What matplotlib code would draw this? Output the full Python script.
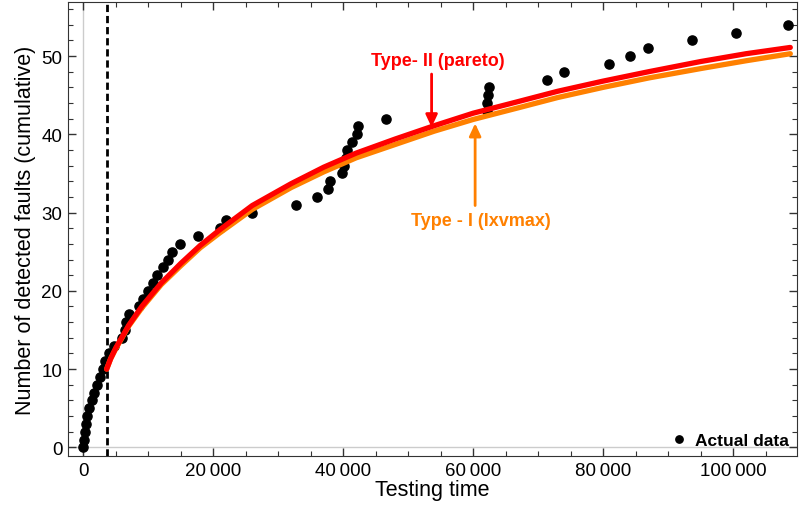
import matplotlib.pyplot as plt
from matplotlib.ticker import MultipleLocator, FuncFormatter

plt.rcParams['font.family'] = ['Liberation Sans', 'DejaVu Sans']

# actual data: testing time (s) vs cumulative faults
time_obs = [0, 100, 200, 400, 600, 900, 1300, 1650, 2050, 2600, 3000, 3400, 3900,
            4800, 6000, 6400, 6500, 7100, 8500, 9200, 10000, 10800, 11300, 12300,
            13000, 13700, 14900, 17600, 21000, 22000, 25900, 32800, 36000, 37600,
            37900, 39800, 40100, 40400, 40600, 41300, 42100, 42300, 46600, 62200,
            62200, 62300, 62500, 71400, 74000, 80900, 84200, 86900, 93600, 100500,
            108500]
faults_obs = list(range(0, 55))

# fitted curves
t_fit = [3600, 4200, 5000, 7000, 9000, 12000, 15000, 18000, 21000, 26000, 32000,
         37000, 42000, 48000, 54000, 60000, 67000, 73000, 80000, 87000, 95000,
         102000, 108800]
pareto_fit = [10.0, 11.3, 12.7, 15.6, 18.0, 21.0, 23.5, 25.8, 27.8, 30.9, 33.7,
              35.8, 37.6, 39.4, 41.1, 42.7, 44.2, 45.5, 46.8, 48.0, 49.3, 50.3, 51.1]
lxvmax_fit = [10.0, 11.3, 12.6, 15.5, 17.8, 20.8, 23.2, 25.5, 27.4, 30.4, 33.2,
              35.2, 37.0, 38.7, 40.4, 41.9, 43.4, 44.7, 46.0, 47.2, 48.4, 49.4, 50.3]

change_point = 3600

fig = plt.figure(figsize=(8, 5.1), dpi=100)
ax = fig.add_axes([0.085, 0.104, 0.911, 0.89])

ax.axhline(0, color='#cccccc', lw=1, zorder=0)
ax.axvline(0, color='#cccccc', lw=1, zorder=0)
ax.axvline(change_point, color='black', lw=2, ls=(0, (2.6, 1.4)), zorder=1)

ax.plot(time_obs, faults_obs, 'o', color='black', ms=6.6, zorder=2,
        label='Actual data')
ax.plot(t_fit, lxvmax_fit, color='#ff8000', lw=3.8, solid_capstyle='round', zorder=3)
ax.plot(t_fit, pareto_fit, color='#ff0000', lw=3.8, solid_capstyle='round', zorder=4)

arrow = '-|>,head_length=0.75,head_width=0.35'
ax.annotate('', xy=(53600, 40.9), xytext=(53600, 47.7),
            arrowprops=dict(arrowstyle=arrow, color='#ff0000', lw=2,
                            shrinkA=0, shrinkB=0))
ax.text(54500, 49.4, 'Type- II (pareto)', color='#ff0000', fontsize=13,
        fontweight='bold', ha='center', va='center')
ax.annotate('', xy=(60300, 41.4), xytext=(60300, 30.9),
            arrowprops=dict(arrowstyle=arrow, color='#ff8000', lw=2,
                            shrinkA=0, shrinkB=0))
ax.text(61200, 29.0, 'Type - I (lxvmax)', color='#ff8000', fontsize=13,
        fontweight='bold', ha='center', va='center')

ax.set_xlim(-2350, 109800)
ax.set_ylim(-1.1, 56.9)

ax.xaxis.set_major_locator(MultipleLocator(20000))
ax.xaxis.set_minor_locator(MultipleLocator(5000))
ax.yaxis.set_major_locator(MultipleLocator(10))
ax.yaxis.set_minor_locator(MultipleLocator(2))
ax.xaxis.set_major_formatter(FuncFormatter(
    lambda v, p: f"{int(v):,}".replace(',', '\u2009')))
ax.tick_params(which='both', direction='in', top=True, right=True,
               labelsize=13.5, color='#333333', pad=4)
ax.tick_params(which='major', length=6, width=1)
ax.tick_params(which='minor', length=3.5, width=0.8)
for s in ax.spines.values():
    s.set_color('#333333')

ax.set_xlabel('Testing time', fontsize=15.5, labelpad=0)
ax.set_ylabel('Number of detected faults (cumulative)', fontsize=15.5, labelpad=4)

ax.legend(loc='lower right', frameon=False, handlelength=0.8, handletextpad=0.5,
          markerscale=0.8, prop={'weight': 'bold', 'size': 12.5}, borderaxespad=0.05)

fig.savefig('out.png', dpi=100)
